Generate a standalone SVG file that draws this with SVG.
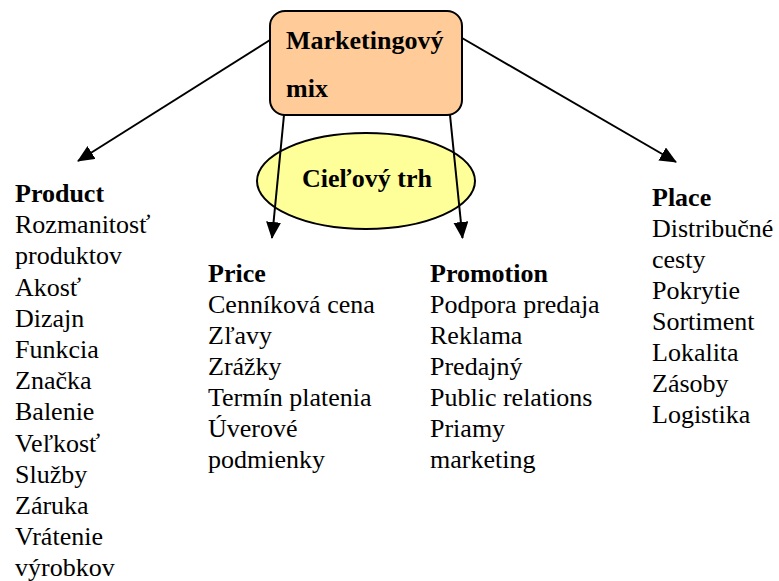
<svg xmlns="http://www.w3.org/2000/svg" width="779" height="581" viewBox="0 0 779 581">
<style>
text{font-family:'Liberation Serif','Times New Roman',Tinos,'DejaVu Serif',serif;font-size:26px;fill:#000}
.b{font-weight:bold}
.ln{stroke:#000;stroke-width:2;fill:none}
</style>
<defs>
<marker id="ah" markerUnits="userSpaceOnUse" markerWidth="17" markerHeight="15" viewBox="0 0 17 15" refX="16" refY="7.5" orient="auto">
<path d="M0,0 L17,7.5 L0,15 z" fill="#000"/>
</marker>
</defs>
<rect width="779" height="581" fill="#fff"/>
<g id="marketing-mix">
<rect x="270" y="11" width="192" height="104" rx="15" ry="15" fill="#FFCC99" stroke="#000" stroke-width="2"/>
<text class="b" x="286" y="49" font-family="Liberation Serif, serif">Marketingový</text>
<text class="b" x="286" y="97" font-family="Liberation Serif, serif">mix</text>
</g>
<g id="cielovy-trh">
<ellipse cx="366" cy="181" rx="109" ry="48" fill="#FFFF99" stroke="#000" stroke-width="2"/>
<text class="b" x="367" y="187" text-anchor="middle" font-family="Liberation Serif, serif">Cieľový trh</text>
</g>
<g id="connectors">
<line class="ln" x1="270" y1="40" x2="78" y2="161" marker-end="url(#ah)"/>
<line class="ln" x1="462" y1="38" x2="676" y2="162" marker-end="url(#ah)"/>
<line class="ln" x1="284" y1="115" x2="272" y2="238" marker-end="url(#ah)"/>
<line class="ln" x1="450" y1="115" x2="462.5" y2="238" marker-end="url(#ah)"/>
</g>
<g id="product">
<text x="15" y="202" font-family="Liberation Serif, serif"><tspan class="b">Product</tspan><tspan x="15" dy="31.2">Rozmanitosť</tspan><tspan x="15" dy="31.2">produktov</tspan><tspan x="15" dy="31.2">Akosť</tspan><tspan x="15" dy="31.2">Dizajn</tspan><tspan x="15" dy="31.2">Funkcia</tspan><tspan x="15" dy="31.2">Značka</tspan><tspan x="15" dy="31.2">Balenie</tspan><tspan x="15" dy="31.2">Veľkosť</tspan><tspan x="15" dy="31.2">Služby</tspan><tspan x="15" dy="31.2">Záruka</tspan><tspan x="15" dy="31.2">Vrátenie</tspan><tspan x="15" dy="31.2">výrobkov</tspan></text>
</g>
<g id="price">
<text x="208" y="282" font-family="Liberation Serif, serif"><tspan class="b">Price</tspan><tspan x="208" dy="31">Cenníková cena</tspan><tspan x="208" dy="31">Zľavy</tspan><tspan x="208" dy="31">Zrážky</tspan><tspan x="208" dy="31">Termín platenia</tspan><tspan x="208" dy="31">Úverové</tspan><tspan x="208" dy="31">podmienky</tspan></text>
</g>
<g id="promotion">
<text x="430" y="282" font-family="Liberation Serif, serif"><tspan class="b">Promotion</tspan><tspan x="430" dy="31">Podpora predaja</tspan><tspan x="430" dy="31">Reklama</tspan><tspan x="430" dy="31">Predajný</tspan><tspan x="430" dy="31">Public relations</tspan><tspan x="430" dy="31">Priamy</tspan><tspan x="430" dy="31">marketing</tspan></text>
</g>
<g id="place">
<text x="652" y="206" font-family="Liberation Serif, serif"><tspan class="b">Place</tspan><tspan x="652" dy="31">Distribučné</tspan><tspan x="652" dy="31">cesty</tspan><tspan x="652" dy="31">Pokrytie</tspan><tspan x="652" dy="31">Sortiment</tspan><tspan x="652" dy="31">Lokalita</tspan><tspan x="652" dy="31">Zásoby</tspan><tspan x="652" dy="31">Logistika</tspan></text>
</g>
</svg>
